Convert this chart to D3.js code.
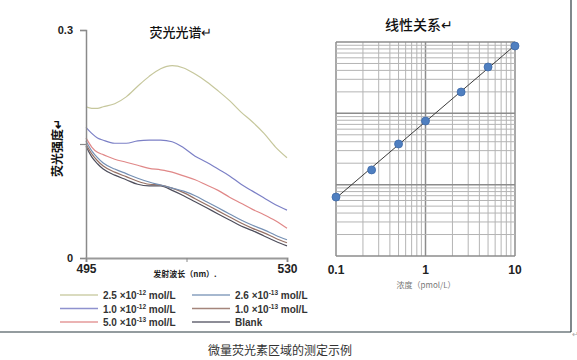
<!DOCTYPE html>
<html><head><meta charset="utf-8">
<script src="https://cdn.jsdelivr.net/npm/d3@7"></script>
<style>
body{margin:0;background:#fff;}
svg{display:block;}
text{font-family:"Liberation Sans",Arial,sans-serif;}
.cjk{font-family:"Noto Sans CJK SC",sans-serif;}
</style></head>
<body>
<svg id="c" width="577" height="360"></svg>
<script>
// ---------- data ----------
const wavelengths = [495,496,497,498,500,502,504,506,508,510,512,514,516,518,520,522,524,526,528,530];
const s25e12 = [0.199,0.197,0.197,0.199,0.203,0.212,0.226,0.239,0.249,0.253,0.250,0.242,0.232,0.220,0.207,0.192,0.179,0.164,0.146,0.132];
const s10e12 = [0.172,0.164,0.158,0.155,0.151,0.151,0.154,0.155,0.155,0.153,0.145,0.134,0.126,0.117,0.108,0.097,0.088,0.079,0.070,0.063];
const s50e13 = [0.158,0.146,0.139,0.136,0.130,0.126,0.122,0.118,0.116,0.113,0.108,0.103,0.096,0.089,0.080,0.072,0.064,0.057,0.049,0.039];
const s26e13 = [0.154,0.141,0.132,0.125,0.117,0.111,0.105,0.100,0.096,0.092,0.088,0.082,0.074,0.066,0.058,0.050,0.043,0.037,0.030,0.024];
const s10e13 = [0.150,0.137,0.128,0.121,0.113,0.107,0.101,0.097,0.096,0.092,0.086,0.078,0.070,0.062,0.054,0.046,0.039,0.033,0.026,0.020];
const sBlank = [0.147,0.133,0.124,0.117,0.109,0.103,0.097,0.095,0.095,0.089,0.082,0.074,0.066,0.058,0.050,0.042,0.036,0.029,0.022,0.016];
const seriesNames = [["2.5 ×10","-12"," mol/L"],["1.0 ×10","-12"," mol/L"],["5.0 ×10","-13"," mol/L"],["2.6 ×10","-13"," mol/L"],["1.0 ×10","-13"," mol/L"],["Blank","",""]];
const seriesColors = ["#c6c79c","#7c80c6","#e08888","#7590b4","#957064","#4e4e5c"];
const yTicks = [0,0.15,0.3];
const yTickLabels = ["0","","0.3"];
const xTicks = [495,512.5,530];
const xTickLabels = ["495","","530"];
const concentrations = [0.1,0.25,0.5,1,2.5,5,10];
const signals = [6.7,16.1,37.2,78.1,199,446,879];
const concTickLabels = [0.1,1,10];

const svg = d3.select("#c");
// ---------- left chart ----------
const x = d3.scaleLinear().domain([495,530]).range([86,287]);
const y = d3.scaleLinear().domain([0,0.3]).range([258,30]);
const allSeries = [s25e12,s10e12,s50e13,s26e13,s10e13,sBlank];
const line = d3.line().x((d,i)=>x(wavelengths[i])).y(d=>y(d)).curve(d3.curveMonotoneX);
svg.append("g").selectAll("path").data(allSeries.slice().reverse()).join("path")
  .attr("d",line).attr("fill","none")
  .attr("stroke",(d,i)=>seriesColors[allSeries.length-1-i]).attr("stroke-width",1.2);

const ga = svg.append("g").attr("transform","translate(86,0)")
  .call(d3.axisLeft(y).tickValues(yTicks).tickFormat((d,i)=>yTickLabels[i]).tickSize(6).tickPadding(7));
ga.select(".domain").attr("stroke","#8a8a8a").attr("stroke-width",1.5);
ga.selectAll(".tick line").attr("stroke","#8a8a8a").attr("stroke-width",1.2);
ga.selectAll("text").attr("font-size",11).attr("font-weight","bold").attr("fill","#222");

const gx = svg.append("g").attr("transform","translate(0,258)")
  .call(d3.axisBottom(x).tickValues(xTicks).tickFormat((d,i)=>xTickLabels[i]).tickSize(4).tickPadding(2));
gx.select(".domain").attr("stroke","#9a9a9a").attr("stroke-width",2);
gx.selectAll(".tick line").attr("stroke","#8a8a8a");
gx.selectAll("text").attr("font-size",12).attr("font-weight","bold").attr("fill","#222");

svg.append("text").attr("class","cjk").attr("x",181).attr("y",37).attr("text-anchor","middle")
  .attr("font-size",13).attr("font-weight",500).attr("fill","#111").text("荧光光谱↵");
svg.append("text").attr("class","cjk").attr("transform","translate(62,148) rotate(-90)").attr("text-anchor","middle")
  .attr("font-size",12).attr("font-weight","bold").attr("fill","#111").text("荧光强度↵");
svg.append("text").attr("class","cjk").attr("x",185).attr("y",277).attr("text-anchor","middle")
  .attr("font-size",8).attr("font-weight","bold").attr("fill","#222").text("发射波长（nm）.");

// legend
const lg = svg.append("g");
seriesNames.forEach((nm,i)=>{
  const col = Math.floor(i/3), row = i%3;
  const lx = col===0?60:192, ly = 295+row*13.5;
  lg.append("line").attr("x1",lx).attr("x2",lx+38).attr("y1",ly).attr("y2",ly)
    .attr("stroke",seriesColors[i]).attr("stroke-width",1.3).attr("opacity",0.85);
  const t = lg.append("text").attr("x",lx+43).attr("y",ly+4).attr("font-size",10).attr("font-weight","bold").attr("fill","#333");
  t.append("tspan").text(nm[0]);
  if(nm[1]){
    t.append("tspan").attr("dy",-4).attr("font-size",6.5).text(nm[1]);
    t.append("tspan").attr("dy",4).text(nm[2]);
  }
});

// ---------- right chart ----------
const xr = d3.scaleLog().domain([0.1,10]).range([336,515]);
const yr = d3.scaleLog().domain([1,1000]).range([256,42]);
const isMajor = v => Math.abs(Math.log10(v)-Math.round(Math.log10(v)))<1e-6;
const grid = svg.append("g");
grid.selectAll("line.v").data(xr.ticks()).join("line").attr("class","v")
  .attr("x1",d=>xr(d)).attr("x2",d=>xr(d)).attr("y1",yr(1)).attr("y2",yr(1000))
  .attr("stroke",d=>isMajor(d)?"#8c8c8c":"#b4b4b4").attr("stroke-width",d=>isMajor(d)?1.5:1);
grid.selectAll("line.h").data(yr.ticks()).join("line").attr("class","h")
  .attr("x1",xr(0.1)).attr("x2",xr(10)).attr("y1",d=>yr(d)).attr("y2",d=>yr(d))
  .attr("stroke",d=>isMajor(d)?"#8c8c8c":"#b4b4b4").attr("stroke-width",d=>isMajor(d)?1.5:1);

// regression (log-log least squares)
const lx = concentrations.map(Math.log10), ly = signals.map(Math.log10);
const mx = d3.mean(lx), my = d3.mean(ly);
const slope = d3.sum(lx.map((v,i)=>(v-mx)*(ly[i]-my)))/d3.sum(lx.map(v=>(v-mx)*(v-mx)));
const icpt = my - slope*mx;
const fit = c => Math.pow(10, icpt + slope*Math.log10(c));
svg.append("line").attr("x1",xr(0.1)).attr("y1",yr(fit(0.1))).attr("x2",xr(10)).attr("y2",yr(fit(10)))
  .attr("stroke","#3a3a3a").attr("stroke-width",1);
svg.append("g").selectAll("circle").data(concentrations).join("circle")
  .attr("cx",d=>xr(d)).attr("cy",(d,i)=>yr(signals[i])).attr("r",4)
  .attr("fill","#4f7fc0").attr("stroke","#3e6aa8").attr("stroke-width",0.8);

svg.append("g").selectAll("text").data(concTickLabels).join("text")
  .attr("x",d=>xr(d)).attr("y",274).attr("text-anchor","middle")
  .attr("font-size",12).attr("font-weight","bold").attr("fill","#222").text(d=>d);
svg.append("text").attr("class","cjk").attr("x",426).attr("y",288).attr("text-anchor","middle")
  .attr("font-size",8).attr("fill","#777").text("浓度（pmol/L）");
svg.append("text").attr("class","cjk").attr("x",419).attr("y",30).attr("text-anchor","middle")
  .attr("font-size",14).attr("font-weight",500).attr("fill","#111").text("线性关系↵");

// frame & caption
svg.append("line").attr("x1",0).attr("x2",571).attr("y1",332).attr("y2",332).attr("stroke","#2a3a40").attr("stroke-width",1.2);
svg.append("line").attr("x1",571).attr("x2",571).attr("y1",0).attr("y2",332).attr("stroke","#2a3a40").attr("stroke-width",1.2);
svg.append("text").attr("x",575).attr("y",337).attr("text-anchor","middle").attr("font-size",8).attr("fill","#aaa").text("↵");
svg.append("text").attr("class","cjk").attr("x",280).attr("y",355).attr("text-anchor","middle")
  .attr("font-size",12).attr("fill","#333").text("微量荧光素区域的测定示例");
</script>
</body></html>
